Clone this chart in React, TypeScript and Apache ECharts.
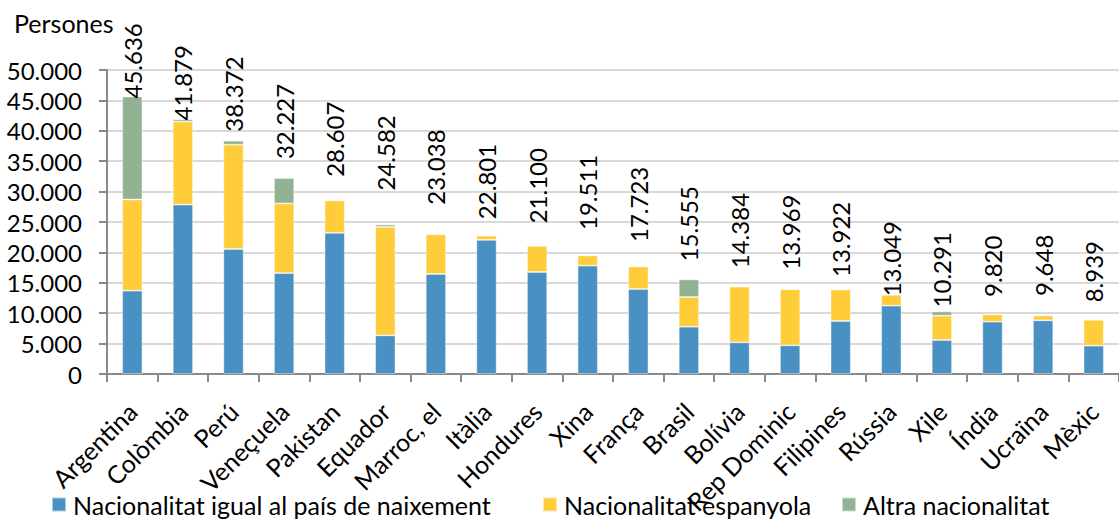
import React, { useEffect, useRef } from "react";
import * as echarts from "echarts";

const categories = [
  "Argentina", "Colòmbia", "Perú", "Veneçuela", "Pakistan", "Equador", "Marroc, el",
  "Itàlia", "Hondures", "Xina", "França", "Brasil", "Bolívia", "Rep Dominic",
  "Filipines", "Rússia", "Xile", "Índia", "Ucraïna", "Mèxic",
];
const totals = [
  45636, 41879, 38372, 32227, 28607, 24582, 23038, 22801, 21100, 19511,
  17723, 15555, 14384, 13969, 13922, 13049, 10291, 9820, 9648, 8939,
];
const sameNationality = [
  13700, 27850, 20560, 16600, 23200, 6350, 16450, 22050, 16780, 17820,
  13980, 7780, 5210, 4720, 8720, 11230, 5590, 8600, 8830, 4660,
];
const spanishNationality = [
  15000, 13650, 17160, 11450, 5350, 17850, 6550, 700, 4300, 1680,
  3700, 4880, 9150, 9230, 5180, 1800, 4000, 1200, 800, 4260,
];
const otherNationality = [
  16936, 379, 652, 4177, 57, 382, 38, 51, 20, 11,
  43, 2895, 24, 19, 22, 19, 701, 20, 18, 19,
];
const seriesNames = [
  "Nacionalitat igual al país de naixement",
  "Nacionalitat espanyola",
  "Altra nacionalitat",
];
const seriesColors = ["#4A91C3", "#FFCC3A", "#93B293"];
const yTicks = { min: 0, max: 50000, interval: 5000 };
// label gap above each bar (label placement, px)
const labelLift = [-2, -1, 9, 19, 23, 34, 29, 16, 22, 25, 24, 18, 18, 19, 12, -2, 4, 17, 19, 17];
const legendLefts = [46, 537, 836];

const FONT = "Lato, 'Noto Sans', sans-serif";
const fmt = (v: number) => String(v).replace(/\B(?=(\d{3})+(?!\d))/g, ".");

export default function App() {
  const ref = useRef<HTMLDivElement>(null);
  useEffect(() => {
    if (!ref.current) return;
    const chart = echarts.init(ref.current, undefined, { renderer: "svg" });
    const axisLine = { show: true, lineStyle: { color: "#898989", width: 2 } };
    const axisTick = { show: true, length: 8, lineStyle: { color: "#898989", width: 2 } };
    const barItem = (i: number) => ({
      color: seriesColors[i],
      borderColor: "rgba(255,255,255,0.55)",
      borderWidth: 0.8,
    });
    chart.setOption({
      animation: false,
      textStyle: { fontFamily: FONT },
      title: {
        text: "Persones",
        left: 14,
        top: 10,
        padding: 0,
        textStyle: { fontFamily: FONT, fontSize: 25, fontWeight: "normal", color: "#000" },
      },
      legend: seriesNames.map((name, i) => ({
        left: legendLefts[i],
        top: 487,
        itemWidth: 14,
        itemHeight: 14,
        icon: "rect",
        data: [name],
        textStyle: { fontFamily: FONT, fontSize: 25, color: "#000", padding: [0, 0, 0, 2] },
      })),
      grid: { left: 107, right: -8, top: 70, bottom: 147, containLabel: false },
      xAxis: {
        type: "category",
        data: categories,
        axisLine,
        axisTick,
        axisLabel: {
          interval: 0,
          rotate: 45,
          margin: 33,
          fontFamily: FONT,
          fontSize: 25,
          color: "#000",
        },
      },
      yAxis: {
        type: "value",
        min: yTicks.min,
        max: yTicks.max,
        interval: yTicks.interval,
        axisLine,
        axisTick,
        splitLine: { lineStyle: { color: "#D9D9D9", width: 2 } },
        axisLabel: {
          margin: 25,
          fontFamily: FONT,
          fontSize: 24,
          color: "#000",
          formatter: (v: number) => fmt(v),
        },
      },
      series: [
        {
          name: seriesNames[0],
          type: "bar",
          stack: "total",
          barWidth: "40%",
          itemStyle: barItem(0),
          data: sameNationality,
        },
        {
          name: seriesNames[1],
          type: "bar",
          stack: "total",
          barWidth: "40%",
          itemStyle: barItem(1),
          data: spanishNationality,
        },
        {
          name: seriesNames[2],
          type: "bar",
          stack: "total",
          barWidth: "40%",
          itemStyle: barItem(2),
          data: otherNationality.map((v, i) => ({
            value: v,
            label: { distance: labelLift[i] },
          })),
          label: {
            show: true,
            position: "top",
            rotate: 90,
            align: "left",
            verticalAlign: "middle",
            fontFamily: FONT,
            fontSize: 24,
            color: "#000",
            formatter: (p: any) => fmt(totals[p.dataIndex]),
          },
        },
      ],
    });
    return () => chart.dispose();
  }, []);
  return (
    <div
      ref={ref}
      style={{ position: "fixed", left: 0, top: 0, width: 1119, height: 521, background: "#fff" }}
    />
  );
}
